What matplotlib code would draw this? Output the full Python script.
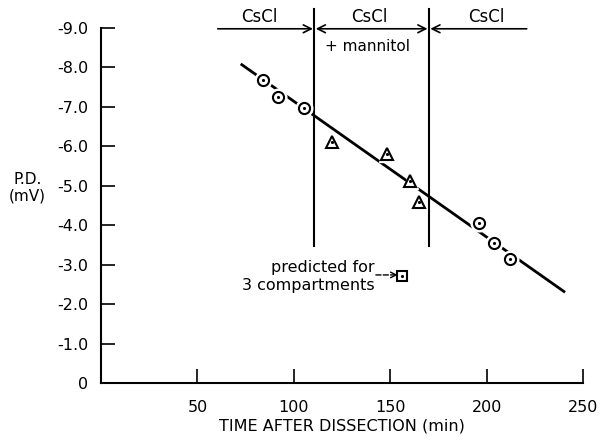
import matplotlib
matplotlib.use("Agg")
import matplotlib.pyplot as plt
import numpy as np

# data
circle_x = [84, 91.5, 105, 196, 204, 212]
circle_y = [-7.69, -7.26, -6.98, -4.05, -3.56, -3.14]
triangle_x = [120, 148.5, 160, 165]
triangle_y = [-6.12, -5.80, -5.11, -4.60]
predicted_x = [156]
predicted_y = [-2.72]
fit_x = [73, 240]
fit_y = [-8.07, -2.32]
boundaries = [110.6, 170]
xticks = [50, 100, 150, 200, 250]
yticks = [0, -1, -2, -3, -4, -5, -6, -7, -8, -9]

plt.rcParams['font.family'] = ['DejaVu Sans']

fig = plt.figure(figsize=(6.05, 4.43), dpi=100)
ax = fig.add_axes([0.167, 0.1354, 0.797, 0.8014])

ax.plot(fit_x, fit_y, color='black', lw=2, zorder=2)
# white halo so the fit line breaks around each symbol
for xs, ys, m in [(circle_x, circle_y, 'o'), (triangle_x, triangle_y, '^')]:
    ax.plot(xs, ys, ls='none', marker=m, color='white', ms=12, zorder=2.5)
mk = dict(ls='none', mfc='white', mec='black', mew=1.5, ms=8, zorder=3)
ax.plot(circle_x, circle_y, marker='o', **mk)
ax.plot(triangle_x, triangle_y, marker='^', **dict(mk, ms=9))
ax.plot(predicted_x, predicted_y, marker='s', **dict(mk, ms=6.5))
for xs, ys in [(circle_x, circle_y), (triangle_x, triangle_y), (predicted_x, predicted_y)]:
    ax.plot(xs, ys, ls='none', marker='.', color='black', ms=2.5, zorder=4)

# solution boundaries
for b in boundaries:
    ax.plot([b, b], [-3.47, -9.47], color='black', lw=1.5, clip_on=False)

arrow_y = -8.98
ap = dict(arrowstyle='->', color='black', lw=1.2, shrinkA=0, shrinkB=1, mutation_scale=14)
ax.annotate('', xy=(boundaries[0], arrow_y), xytext=(60.5, arrow_y),
            arrowprops=ap, annotation_clip=False)
ax.annotate('', xy=(boundaries[1], arrow_y), xytext=(boundaries[0], arrow_y),
            arrowprops=dict(ap, arrowstyle='<->', shrinkA=1), annotation_clip=False)
ax.annotate('', xy=(boundaries[1], arrow_y), xytext=(220.7, arrow_y),
            arrowprops=ap, annotation_clip=False)

for cx in [82, 139, 199.5]:
    ax.text(cx, -9.28, 'CsCl', ha='center', va='center', fontsize=12)
ax.text(138, -8.53, '+ mannitol', ha='center', va='center', fontsize=11)

ax.text(142, -2.92, 'predicted for', ha='right', va='center', fontsize=11.5)
ax.text(142, -2.47, '3 compartments', ha='right', va='center', fontsize=11.5)
ax.annotate('', xy=(predicted_x[0] - 2.2, -2.74), xytext=(142.5, -2.74),
            arrowprops=dict(arrowstyle='->', color='black', lw=1, ls='--',
                            shrinkA=0, shrinkB=0, mutation_scale=10))

ax.set_xlim(0, 250)
ax.set_ylim(0, -9)
ax.spines['top'].set_visible(False)
ax.spines['right'].set_visible(False)
ax.spines['left'].set_linewidth(1.5)
ax.spines['bottom'].set_linewidth(1.5)

ax.set_xticks(xticks)
ax.set_xticklabels([str(t) for t in xticks])
ax.set_yticks(yticks)
ax.set_yticklabels(['0'] + ['%.1f' % t for t in yticks[1:]])
ax.tick_params(direction='in', length=10, width=1.2, labelsize=11.5)
ax.tick_params(axis='y', pad=9)
ax.tick_params(axis='x', pad=12)

ax.set_xlabel('TIME AFTER DISSECTION (min)', fontsize=11.5, labelpad=3)
fig.text(0.045, 0.576, 'P.D.\n(mV)', ha='center', va='center', fontsize=11,
         linespacing=1.1)

fig.savefig('out.png', dpi=100)
